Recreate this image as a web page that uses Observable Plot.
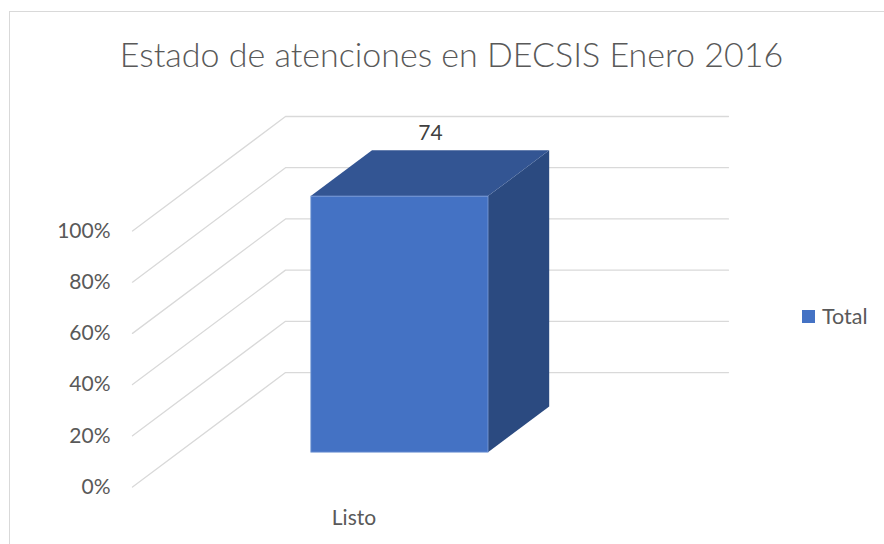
<!DOCTYPE html>
<html>
<head>
<meta charset="utf-8">
<script src="https://cdn.jsdelivr.net/npm/d3@7"></script>
<script src="https://cdn.jsdelivr.net/npm/@observablehq/plot@0.6"></script>
<style>
  html, body { margin: 0; padding: 0; background: #fff; }
  #wrap { position: relative; width: 884px; height: 544px; overflow: hidden; font-family: Lato, "Open Sans", sans-serif; }
  #frame { position: absolute; left: 8.5px; top: 10.5px; width: 920px; height: 600px; border: 1.5px solid #d9d9d9; box-sizing: border-box; }
  #title { position: absolute; left: 0; top: 33.5px; width: 903px; text-align: center; font-size: 34px; font-weight: 300; color: #595959; line-height: 1.2; white-space: nowrap; }
  #chart { position: absolute; left: 0; top: 0; }
  #legend { position: absolute; left: 802px; top: 302px; display: flex; align-items: center; font-size: 21.5px; color: #595959; line-height: 28px; }
  #legend .sw { width: 13px; height: 13px; margin-right: 7px; }
</style>
</head>
<body>
<div id="wrap">
  <div id="frame"></div>
  <div id="chart"></div>
  <div id="title">Estado de atenciones en DECSIS Enero 2016</div>
  <div id="legend"></div>
</div>
<script>
// ---- data ----
const categories = ["Listo"];
const totals = [74];
const seriesName = "Total";
const yTicks = [0, 0.2, 0.4, 0.6, 0.8, 1];

// ---- style / layout ----
const frontColor = "#4472c4";
const topColor = "#335593";
const sideColor = "#2b4a80";
const gridColor = "#d9d9d9";
const textColor = "#595959";
const DX = 0.3454;   // depth shift in x units (full depth)
const DY = 0.447;    // depth shift in y units (full depth)
const BAR = 0.4;     // bar width as a fraction of the category slot
const d0 = 0.3, d1 = 0.7; // bar depth extent

const P = (c, v, d) => ({x: c + d * DX, y: v + d * DY});

const n = categories.length;
const bars = categories.map((cat, i) => {
  const c0 = (i + (1 - BAR) / 2) / n;
  const c1 = (i + (1 + BAR) / 2) / n;
  const v = totals[i] / totals[i]; // 100% stacked, single series
  return {cat, c0, c1, cm: (i + 0.5) / n, v, label: totals[i]};
});

const grid = yTicks.flatMap(t => [
  {t, ...P(0, t, 0)}, {t, ...P(0, t, 1)}, {t, ...P(1, t, 1)}
]);

const side = bars.flatMap(b => [d0, d1].map(d => ({
  cat: b.cat, x: b.c1 + d * DX, y1: d * DY, y2: b.v + d * DY
})));
const topFace = bars.flatMap(b => [d0, d1].map(d => ({
  cat: b.cat, y: b.v + d * DY, x1: b.c0 + d * DX, x2: b.c1 + d * DX
})));

const chart = Plot.plot({
  width: 884,
  height: 544,
  marginLeft: 132,
  marginRight: 156,
  marginTop: 116,
  marginBottom: 57.5,
  style: {fontFamily: "Lato, 'Open Sans', sans-serif", color: textColor, background: "transparent"},
  x: {domain: [0, 1 + DX], axis: null},
  y: {domain: [0, 1 + DY]},
  marks: [
    Plot.line(grid, {x: "x", y: "y", z: "t", stroke: gridColor, strokeWidth: 1.3}),
    Plot.areaY(side, {x: "x", y1: "y1", y2: "y2", z: "cat", fill: sideColor}),
    Plot.areaX(topFace, {y: "y", x1: "x1", x2: "x2", z: "cat", fill: topColor}),
    Plot.rect(bars, {
      x1: b => b.c0 + d0 * DX, x2: b => b.c1 + d0 * DX,
      y1: () => d0 * DY, y2: b => b.v + d0 * DY,
      fill: frontColor, stroke: "#7f9fd8", strokeWidth: 0.8
    }),
    Plot.axisY(yTicks, {tickSize: 0, tickPadding: 22, tickFormat: d3.format(".0%"), fontSize: 21, fill: textColor}),
    Plot.text(bars, {x: "cm", y: () => 0, text: "cat", dy: 31, fontSize: 21, fill: textColor}),
    Plot.text(bars, {x: b => b.cm + 0.5 * DX, y: b => b.v + 0.5 * DY, text: "label", dy: -40, fontSize: 21, fill: "#404040"})
  ]
});
document.getElementById("chart").appendChild(chart);

const legend = document.getElementById("legend");
legend.innerHTML = `<div class="sw" style="background:${frontColor}"></div><span>${seriesName}</span>`;
</script>
</body>
</html>
